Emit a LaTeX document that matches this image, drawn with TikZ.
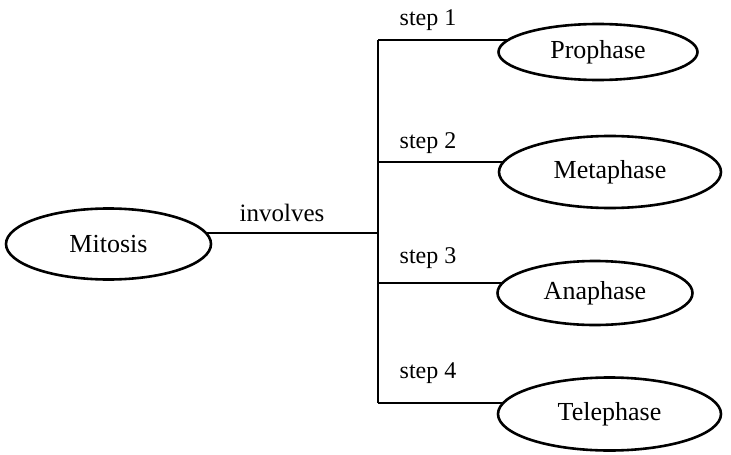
\documentclass[tikz,border=0pt]{standalone}
\usepackage{fontspec}
\setmainfont{Liberation Serif}
\usetikzlibrary{shapes.geometric,backgrounds}
\begin{document}
\begin{tikzpicture}[x=1pt,y=-1pt,
  phase/.style={ellipse,draw,line width=2.6pt,fill=white,inner sep=0pt,font=\fontsize{26}{30}\selectfont},
  conn/.style={line width=2.6pt},
  lbl/.style={inner sep=0pt,font=\fontsize{24}{28}\selectfont}]
\useasboundingbox (0,0) rectangle (731,455);
\node[phase,minimum width=205pt,minimum height=71pt] (mit) at (108.5,244) {Mitosis};
\node[phase,minimum width=199pt,minimum height=56pt] (pro) at (598,52) {Prophase};
\node[phase,minimum width=222pt,minimum height=72pt] (met) at (610,172) {Metaphase};
\node[phase,minimum width=195pt,minimum height=64pt] (ana) at (595,293) {Anaphase};
\node[phase,minimum width=223pt,minimum height=73pt] (tel) at (609.5,414) {Telephase};
\coordinate (j0) at (378,233);
\coordinate (j1) at (378,40);
\coordinate (j2) at (378,162);
\coordinate (j3) at (378,283);
\coordinate (j4) at (378,403);
\begin{scope}[on background layer]
\draw[conn] (j0) -- (mit.center |- j0);
\draw[conn] (j1) -- (j4);
\draw[conn] (j1) -- (pro.center |- j1);
\draw[conn] (j2) -- (met.center |- j2);
\draw[conn] (j3) -- (ana.center |- j3);
\draw[conn] (j4) -- (tel.center |- j4);
\end{scope}
\node[lbl,font=\fontsize{25}{29}\selectfont] (inv) at (282,213) {involves};
\node[lbl] (s1) at (428,20) {step 1};
\node[lbl] (s2) at (428,143) {step 2};
\node[lbl] (s3) at (428,258) {step 3};
\node[lbl] (s4) at (428,373) {step 4};
\end{tikzpicture}
\end{document}
